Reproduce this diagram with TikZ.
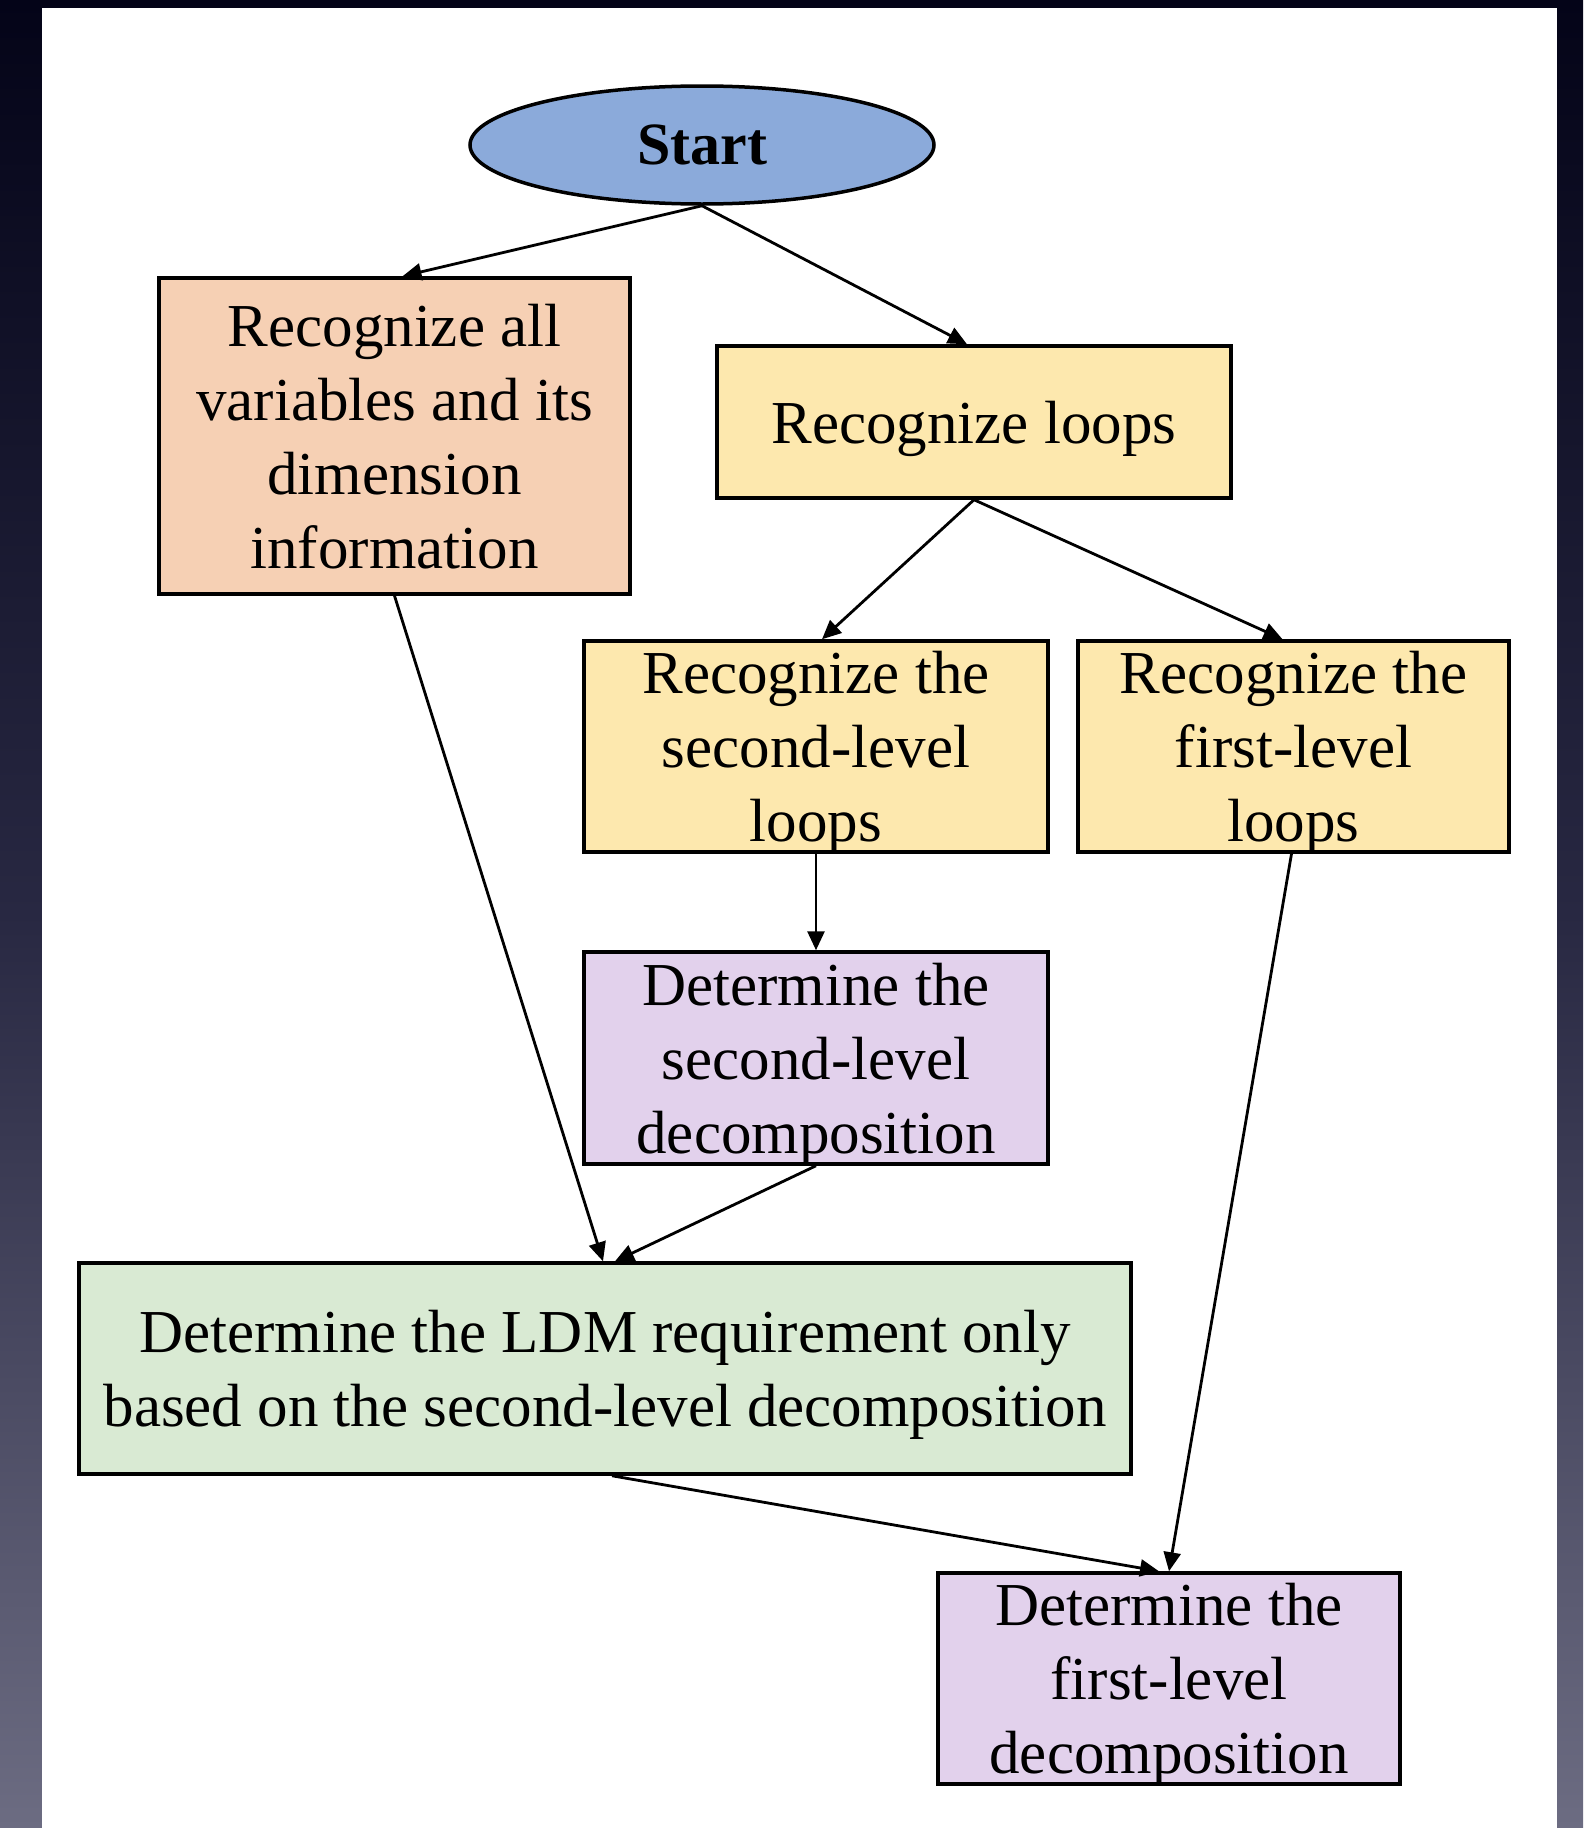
\documentclass[tikz,border=0pt]{standalone}
\usepackage{fontspec}
\setmainfont{Liberation Serif}
\usetikzlibrary{arrows.meta,shapes.geometric,calc}

\definecolor{startblue}{RGB}{139,170,218}
\definecolor{boxorange}{RGB}{246,208,180}
\definecolor{boxyellow}{RGB}{253,232,174}
\definecolor{boxpurple}{RGB}{226,209,236}
\definecolor{boxgreen}{RGB}{217,234,211}
\definecolor{bgtop}{RGB}{4,4,24}
\definecolor{bgmid}{RGB}{40,40,66}
\definecolor{bgbot}{RGB}{108,108,130}

\tikzset{
  flowbox/.style={draw=black, line width=3.5pt, rectangle, inner sep=0pt,
    align=center, text depth=-5pt, font=\fontsize{61}{74}\selectfont},
  startnode/.style={draw=black, line width=3.5pt, ellipse, inner sep=0pt,
    fill=startblue, font=\fontsize{60}{70}\selectfont\bfseries},
  flowarrow/.style={line width=2.8pt, -{Triangle[length=19pt,width=17pt]}}
}

\begin{document}
\begin{tikzpicture}[x=1pt,y=-1pt]
  % backdrop and white page
  \shade[top color=bgtop, bottom color=bgbot, middle color=bgmid]
    (0,0) rectangle (1583,1828);
  \fill[white] (42,8) rectangle (1557,1828);
  \useasboundingbox (0,0) rectangle (1583,1828);

  % nodes
  \node[startnode, minimum width=464pt, minimum height=118pt] (start) at (702,145) {Start};
  \node[flowbox, fill=boxorange, minimum width=471pt, minimum height=316pt] (vars) at (394.5,436)
    {Recognize all\\variables and its\\dimension\\information};
  \node[flowbox, fill=boxyellow, minimum width=514pt, minimum height=152pt] (loops) at (974,422)
    {Recognize loops};
  \node[flowbox, fill=boxyellow, minimum width=464pt, minimum height=211pt] (second) at (816,746.5)
    {Recognize the\\second-level\\loops};
  \node[flowbox, fill=boxyellow, minimum width=431pt, minimum height=211pt] (first) at (1293.5,746.5)
    {Recognize the\\first-level\\loops};
  \node[flowbox, fill=boxpurple, minimum width=464pt, minimum height=212pt] (secdec) at (816,1058)
    {Determine the\\second-level\\decomposition};
  \node[flowbox, fill=boxgreen, minimum width=1052pt, minimum height=211pt] (ldm) at (605,1368.5)
    {Determine the LDM requirement only\\based on the second-level decomposition};
  \node[flowbox, fill=boxpurple, minimum width=462pt, minimum height=211pt] (firdec) at (1169,1678.5)
    {Determine the\\first-level\\decomposition};

  % connectors
  \draw[flowarrow] (start.south) -- ($(vars.north)+(8,0)$);
  \draw[flowarrow] (start.south) -- ($(loops.north)+(-7,0)$);
  \draw[flowarrow] (loops.south) -- ($(second.north)+(6,0)$);
  \draw[flowarrow] (loops.south) -- ($(first.north)+(-11,0)$);
  \draw[flowarrow] (second.south) -- (secdec.north);
  \draw[flowarrow] (vars.south) -- ($(ldm.north)+(-2,0)$);
  \draw[flowarrow] (secdec.south) -- ($(ldm.north)+(10,0)$);
  \draw[flowarrow] ($(first.south)+(-2,0)$) -- (firdec.north);
  \draw[flowarrow] ($(ldm.south)+(7,0)$) -- ($(firdec.north)+(-10,0)$);
\end{tikzpicture}
\end{document}
